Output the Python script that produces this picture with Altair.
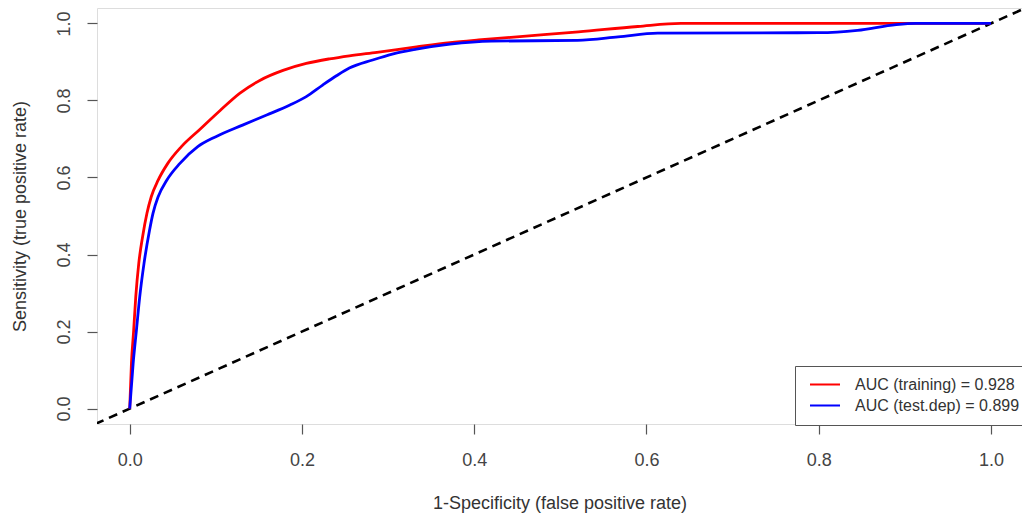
import altair as alt
import pandas as pd

# ROC curve for the training data (false positive rate, true positive rate)
train_fpr = [0.0, 0.002, 0.0046, 0.007, 0.0105, 0.015, 0.02, 0.025, 0.033, 0.044, 0.06,
             0.081, 0.105, 0.128, 0.151, 0.178, 0.205, 0.232, 0.255, 0.287, 0.333, 0.372,
             0.405, 0.46, 0.521, 0.59, 0.64, 1.0]
train_tpr = [0.0, 0.118, 0.204, 0.29, 0.377, 0.447, 0.507, 0.55, 0.593, 0.636, 0.68,
             0.724, 0.774, 0.819, 0.852, 0.878, 0.896, 0.908, 0.916, 0.925, 0.939, 0.95,
             0.957, 0.967, 0.978, 0.992, 1.0, 1.0]

# ROC curve for the test.dep data
test_fpr = [0.0, 0.004, 0.0078, 0.0116, 0.0166, 0.023, 0.027, 0.033, 0.043, 0.058, 0.079,
            0.1, 0.131, 0.159, 0.186, 0.205, 0.224, 0.24, 0.255, 0.282, 0.306, 0.333,
            0.372, 0.42, 0.52, 0.567, 0.613, 0.8, 0.845, 0.89, 0.913, 1.0]
test_tpr = [0.0, 0.118, 0.204, 0.29, 0.377, 0.463, 0.507, 0.55, 0.593, 0.636, 0.68,
            0.706, 0.736, 0.762, 0.788, 0.81, 0.84, 0.864, 0.884, 0.905, 0.921, 0.933,
            0.946, 0.954, 0.956, 0.965, 0.975, 0.976, 0.982, 0.997, 1.0, 1.0]

# reference diagonal (abline 0,1)
diag_x = [-0.04, 1.04]
diag_y = [-0.04, 1.04]

series_names = ["AUC (training) = 0.928", "AUC (test.dep) = 0.899"]
series_colors = ["#ff0000", "#0000ff"]

x_ticks = [0.0, 0.2, 0.4, 0.6, 0.8, 1.0]
y_ticks = [0.0, 0.2, 0.4, 0.6, 0.8, 1.0]

rows = []
for i, (fx, ty) in enumerate(zip(train_fpr, train_tpr)):
    rows.append({"fpr": fx, "tpr": ty, "series": series_names[0], "ord": i})
for i, (fx, ty) in enumerate(zip(test_fpr, test_tpr)):
    rows.append({"fpr": fx, "tpr": ty, "series": series_names[1], "ord": i})
curves = pd.DataFrame(rows)
diag = pd.DataFrame({"fpr": diag_x, "tpr": diag_y})

FONT = "Liberation Sans"

x_scale = alt.Scale(domain=[-0.038, 1.036], nice=False, zero=False)
y_scale = alt.Scale(domain=[-0.04, 1.04], nice=False, zero=False)

x_axis = alt.Axis(values=x_ticks, format=".1f", title="1-Specificity (false positive rate)",
                  domain=False, grid=False, ticks=True, tickSize=10, tickColor="#555",
                  tickWidth=1.2, labelFontSize=18, labelColor="#444", labelPadding=17,
                  labelFont=FONT, titleFont=FONT, titleFontSize=18, titleColor="#333",
                  titleFontWeight="normal", titlePadding=25)
y_axis = alt.Axis(values=y_ticks, format=".1f", title="Sensitivity (true positive rate)",
                  domain=False, grid=False, ticks=True, tickSize=10, tickColor="#555",
                  tickWidth=1.2, labelFontSize=18, labelColor="#444", labelPadding=14,
                  labelAngle=-90, labelFont=FONT, titleFont=FONT, titleFontSize=18,
                  titleColor="#333", titleFontWeight="normal", titlePadding=26)

lines = alt.Chart(curves).mark_line(strokeWidth=2.8, interpolate="monotone", clip=True).encode(
    x=alt.X("fpr:Q", scale=x_scale, axis=x_axis),
    y=alt.Y("tpr:Q", scale=y_scale, axis=y_axis),
    color=alt.Color("series:N",
                    scale=alt.Scale(domain=series_names, range=series_colors),
                    legend=alt.Legend(orient="none", legendX=698, legendY=358, title=None,
                                      fillColor="white", strokeColor="#555", padding=11,
                                      symbolType="stroke", symbolSize=900, symbolStrokeWidth=2,
                                      symbolOffset=3, labelFontSize=16, labelFont=FONT,
                                      labelColor="#333", labelOffset=14, rowPadding=4,
                                      clipHeight=15, labelLimit=400)),
    order="ord:Q",
)

diagonal = alt.Chart(diag).mark_line(color="black", strokeWidth=2.6, strokeDash=[9, 6],
                                     clip=True).encode(
    x=alt.X("fpr:Q", scale=x_scale),
    y=alt.Y("tpr:Q", scale=y_scale),
)

chart = alt.layer(diagonal, lines).properties(
    width=925, height=416,
    autosize=alt.AutoSizeParams(type="none"),
    padding={"left": 97, "top": 8, "right": 0, "bottom": 92},
).configure_view(stroke="#555", strokeWidth=1.6).configure(background="white")

chart.save("out.html", embed_options={"renderer": "svg", "actions": False})
